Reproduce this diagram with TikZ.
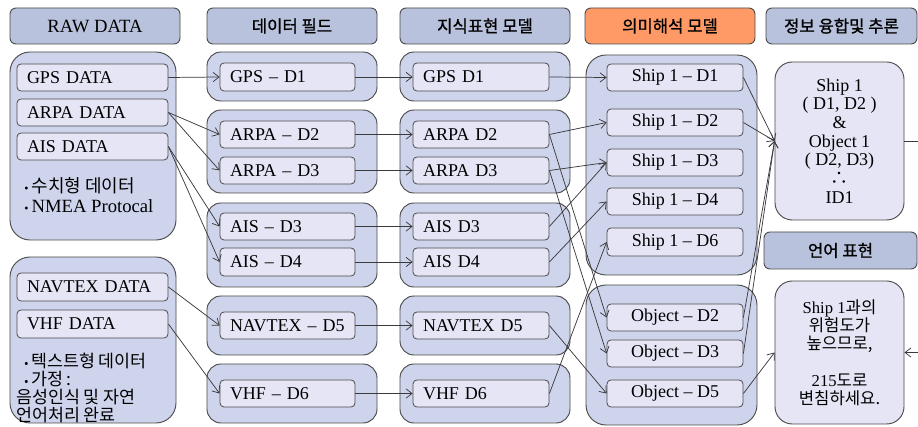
\documentclass[tikz,border=0pt]{standalone}
\usepackage{fontspec}
\setmainfont{Liberation Serif}
\newfontfamily\kr{Noto Sans CJK KR}
\newfontfamily\krh{Noto Sans CJK KR}[FakeBold=1]
\usetikzlibrary{arrows.meta}

\definecolor{hdrfill}{HTML}{B8C2DC}
\definecolor{grpfill}{HTML}{CED4EC}
\definecolor{boxfill}{HTML}{E5E5F6}
\definecolor{semfill}{HTML}{FF9966}
\definecolor{edgecol}{HTML}{4A4A4A}
\definecolor{wirecol}{HTML}{3A3A3A}

\tikzset{
  sz/.style 2 args={minimum width=#1*0.75pt, minimum height=#2*0.75pt},
  hdr/.style={draw=edgecol, fill=hdrfill, rounded corners=4.5pt, line width=0.7pt,
    inner sep=0pt, font=\krh\fontsize{12.5}{14}\selectfont},
  grp/.style={draw=edgecol, fill=grpfill, rounded corners=10.5pt, line width=0.7pt, inner sep=0pt},
  biggrp/.style={grp, rounded corners=15pt},
  cell/.style={draw=edgecol, fill=boxfill, rounded corners=3pt, line width=0.6pt,
    inner ysep=0pt, font=\fontsize{13.5}{15}\selectfont},
  rawcell/.style={cell, inner xsep=7.5pt, text width=98.25pt, align=left},
  fldcell/.style={cell, inner xsep=7.5pt, text width=86.25pt, align=left},
  knwcell/.style={cell, inner xsep=7.5pt, text width=87pt, align=left},
  semcell/.style={cell, inner xsep=0pt, align=center},
  note/.style={inner sep=0pt, align=left},
  bigcell/.style={draw=edgecol, fill=boxfill, rounded corners=13pt, line width=0.7pt,
    inner sep=0pt, align=center},
  wire/.style={draw=wirecol, line width=0.55pt, -{Straight Barb[length=4.5pt,width=7pt]}},
}
\newcommand{\dotmark}{{\fontsize{9}{10}\selectfont•}\,}

\begin{document}
\begin{tikzpicture}[x=0.75pt, y=-0.75pt]
\clip (0,0) rectangle (918,427);
\fill[white] (0,0) rectangle (918,427);

% column headers
\node[hdr, sz={170}{36}] (hRaw)  at (95,26)  {\rmfamily\fontsize{14}{16}\selectfont RAW DATA};
\node[hdr, sz={170}{36}] (hFld)  at (292,26) {데이터 필드};
\node[hdr, sz={170}{36}] (hKnw)  at (485,26) {지식표현 모델};
\node[hdr, sz={170}{36}, fill=semfill] (hSem) at (670,26) {의미해석 모델};
\node[hdr, sz={151}{36}] (hFus)  at (841.5,26) {정보 융합및 추론};
\node[hdr, sz={153}{37}] (hLang) at (840.5,250.5) {언어 표현};

% raw data groups
\node[biggrp, sz={166}{188}] (rawA) at (93,146) {};
\node[biggrp, sz={166}{166}] (rawB) at (93,340) {};
\node[rawcell, sz={151}{27}] (rGps) at (92.5,77.5)  {GPS DATA};
\node[rawcell, sz={151}{27}] (rArp) at (92.5,112.5) {ARPA DATA};
\node[rawcell, sz={151}{27}] (rAis) at (92.5,146.5) {AIS DATA};
\node[rawcell, sz={151}{28}] (rNav) at (92.5,287)   {NAVTEX DATA};
\node[rawcell, sz={151}{28}] (rVhf) at (92.5,324)   {VHF DATA};
\node[note, anchor=west, font=\fontsize{14}{15}\selectfont] (numNote) at (24,195)
  {\dotmark{\kr\fontsize{13.5}{15}\selectfont 수치형 데이터}\\
   \dotmark NMEA Protocal};
\node[note, anchor=north west, font=\kr\fontsize{13}{13.5}\selectfont] (txtNote) at (16,353)
  {\hspace{6pt}\dotmark 텍스트형 데이터\\
   \hspace{6pt}\dotmark 가정 :\\
   음성인식 및 자연\\
   언어처리 완료};

% data field groups
\node[grp, sz={170}{49}] (fg1) at (292,76.5)  {};
\node[grp, sz={170}{83}] (fg2) at (292,151.5) {};
\node[grp, sz={170}{84}] (fg3) at (292,245)   {};
\node[grp, sz={170}{59}] (fg4) at (292,325.5) {};
\node[grp, sz={170}{59}] (fg5) at (292,393.5) {};
\node[fldcell, sz={135}{28}] (fGps)  at (287.5,77)    {GPS – D1};
\node[fldcell, sz={135}{27}] (fArp2) at (287.5,134.5) {ARPA – D2};
\node[fldcell, sz={135}{27}] (fArp3) at (287.5,170.5) {ARPA – D3};
\node[fldcell, sz={135}{27}] (fAis3) at (287.5,226.5) {AIS – D3};
\node[fldcell, sz={135}{28}] (fAis4) at (287.5,262)   {AIS – D4};
\node[fldcell, sz={135}{27}] (fNav)  at (287.5,325.5) {NAVTEX – D5};
\node[fldcell, sz={135}{27}] (fVhf)  at (287.5,393.5) {VHF – D6};

% knowledge representation groups
\node[grp, sz={170}{49}] (kg1) at (485,76.5)  {};
\node[grp, sz={170}{83}] (kg2) at (485,151.5) {};
\node[grp, sz={170}{84}] (kg3) at (485,245)   {};
\node[grp, sz={170}{59}] (kg4) at (485,325.5) {};
\node[grp, sz={170}{59}] (kg5) at (485,393.5) {};
\node[knwcell, sz={136}{28}] (kGps)  at (481,77)    {GPS D1};
\node[knwcell, sz={136}{27}] (kArp2) at (481,134.5) {ARPA D2};
\node[knwcell, sz={136}{27}] (kArp3) at (481,170.5) {ARPA D3};
\node[knwcell, sz={136}{27}] (kAis3) at (481,226.5) {AIS D3};
\node[knwcell, sz={136}{28}] (kAis4) at (481,262)   {AIS D4};
\node[knwcell, sz={136}{27}] (kNav)  at (481,325.5) {NAVTEX D5};
\node[knwcell, sz={136}{27}] (kVhf)  at (481,393.5) {VHF D6};

% semantic interpretation groups
\node[biggrp, sz={171}{220}] (sgA) at (671.5,165) {};
\node[biggrp, sz={171}{140}] (sgB) at (671.5,355) {};
\node[semcell, sz={136}{27}] (s1) at (675,77.5)  {Ship 1 – D1};
\node[semcell, sz={136}{27}] (s2) at (675,122.5) {Ship 1 – D2};
\node[semcell, sz={136}{27}] (s3) at (675,162.5) {Ship 1 – D3};
\node[semcell, sz={136}{27}] (s4) at (675,201.5) {Ship 1 – D4};
\node[semcell, sz={136}{28}] (s6) at (675,242)   {Ship 1 – D6};
\node[semcell, sz={136}{27}] (o2) at (675,317.5) {Object – D2};
\node[semcell, sz={136}{27}] (o3) at (675,353.5) {Object – D3};
\node[semcell, sz={136}{27}] (o5) at (675,393.5) {Object – D5};

% fusion / inference and language output
\node[bigcell, sz={129}{158}, font=\fontsize{13.5}{14}\selectfont] (fuse) at (839.5,141)
  {Ship 1\\( D1, D2 )\\\&\\Object 1\\( D2, D3)\\{\kr ∴}\\ID1};
\node[bigcell, sz={129}{143}, font=\fontsize{12.5}{13.7}\selectfont] (lang) at (839.5,352.5)
  {Ship 1{\kr 과의}\\{\kr 위험도가}\\{\kr 높으므로,}\\~\\215{\kr 도로}\\{\kr 변침하세요.}};

% raw data -> data fields
\draw[wire] (rGps.east) -- (fGps.west);
\draw[wire] (rArp.east) -- (fArp2.west);
\draw[wire] (rArp.east) -- (fArp3.west);
\draw[wire] (rAis.east) -- (fAis3.west);
\draw[wire] (rAis.east) -- (fAis4.west);
\draw[wire] (rNav.east) -- (fNav.west);
\draw[wire] (rVhf.east) -- (fVhf.west);

% data fields -> knowledge representation
\draw[wire] (fGps.east)  -- (kGps.west);
\draw[wire] (fArp2.east) -- (kArp2.west);
\draw[wire] (fArp3.east) -- (kArp3.west);
\draw[wire] (fAis3.east) -- (kAis3.west);
\draw[wire] (fAis4.east) -- (kAis4.west);
\draw[wire] (fNav.east)  -- (kNav.west);
\draw[wire] (fVhf.east)  -- (kVhf.west);

% knowledge representation -> semantic interpretation
\draw[wire] (kGps.east)  -- (s1.west);
\draw[wire] (kArp2.east) -- (s2.west);
\draw[wire] (kArp2.east) -- (o2.west);
\draw[wire] (kArp3.east) -- (s3.west);
\draw[wire] (kArp3.east) -- (o3.west);
\draw[wire] (kAis3.east) -- (s3.west);
\draw[wire] (kAis4.east) -- (s4.west);
\draw[wire] (kVhf.east)  -- (s6.west);
\draw[wire] (kNav.east)  -- (o5.west);

% semantic interpretation -> fusion and language output
\draw[wire] (s1.east) -- (fuse.west);
\draw[wire] (s2.east) -- (fuse.west);
\draw[wire] (o2.east) -- (fuse.west);
\draw[wire] (o3.east) -- (fuse.west);
\draw[wire] (o5.east) -- (lang.west);

% fusion result feeds the language output
\draw[wire] (fuse.east) -- ++(30,0) |- (lang.east);
\end{tikzpicture}
\end{document}
